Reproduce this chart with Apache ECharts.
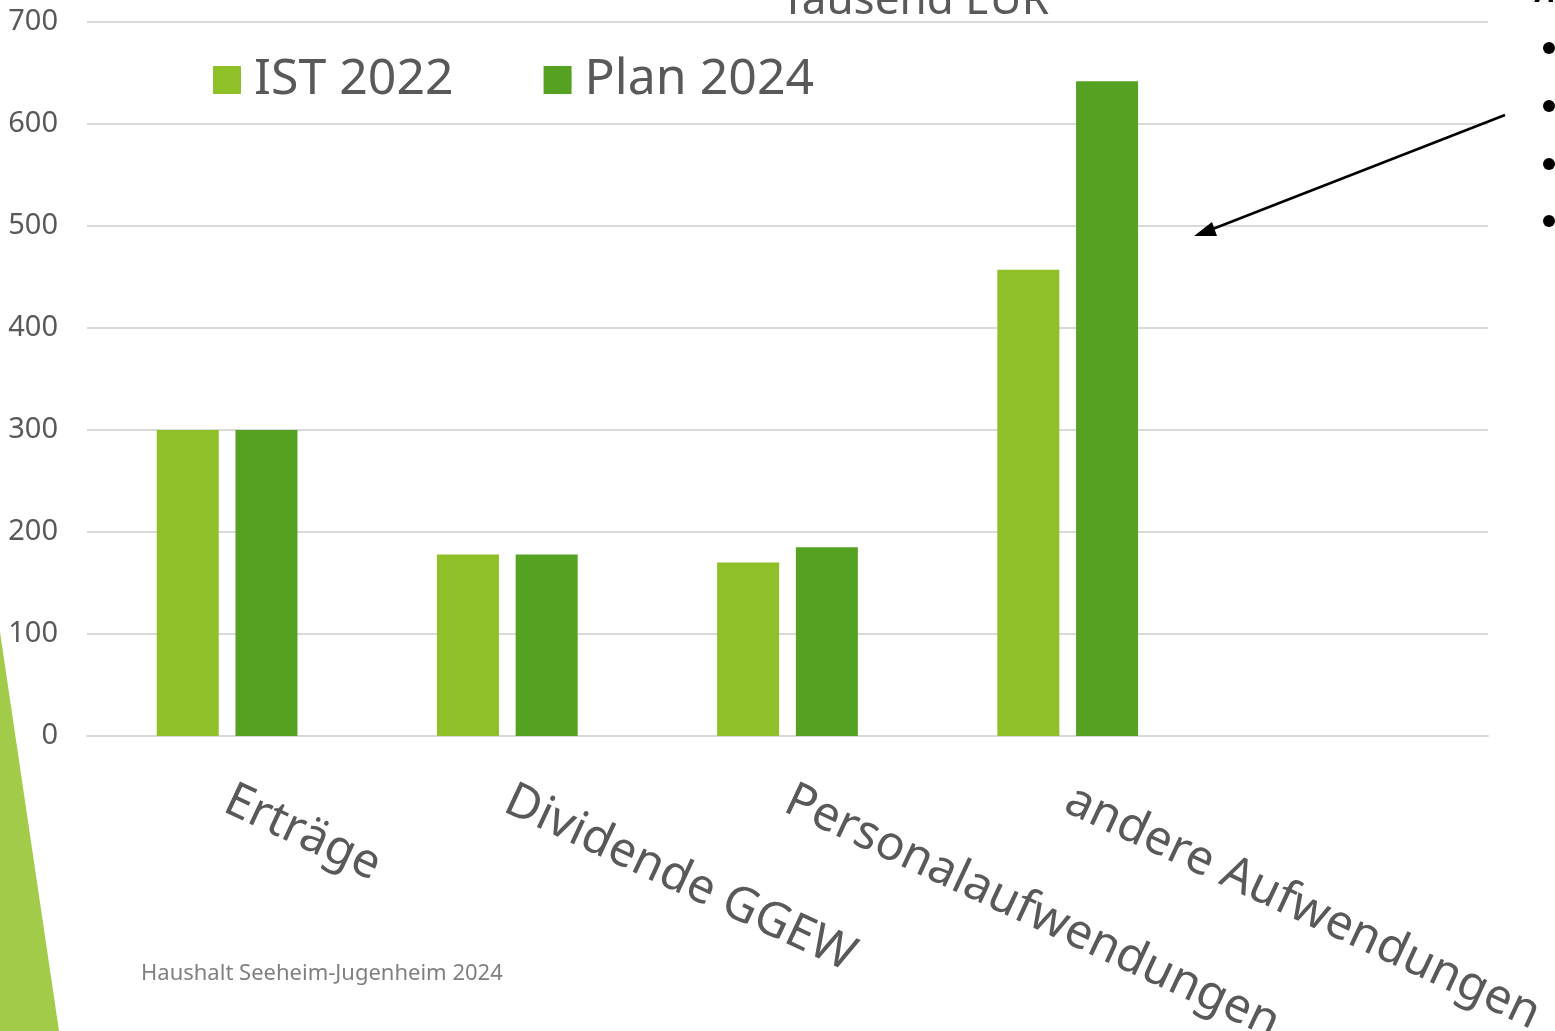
<!DOCTYPE html>
<html>
<head>
<meta charset="utf-8">
<script src="https://cdn.jsdelivr.net/npm/echarts@6/dist/echarts.min.js"></script>
<style>
    html, body {margin: 0; padding: 0; background: #fff;}
    #chart {width: 1555px; height: 1031px;}
</style>
</head>
<body>
<div id="chart"></div>
<script>
    // data
    const categories = ["Erträge", "Dividende GGEW", "Personalaufwendungen", "andere Aufwendungen", ""];
    const ist2022 = [300, 178, 170, 457, null];
    const plan2024 = [300, 178, 185, 642, null];
    const yTicks = [0, 100, 200, 300, 400, 500, 600, 700];

    const FONT = "Noto Sans"; // closest installed face
    const GRAY = "#595959";

    const chart = echarts.init(document.getElementById("chart"));
    chart.setOption({
        animation: false,
        backgroundColor: "#fff",
        title: {
            text: "Tausend EUR",
            left: 910, top: -26,
            textAlign: "center",
            textStyle: {fontFamily: FONT, fontSize: 44, fontWeight: "normal", color: GRAY}
        },
        legend: {
            left: 208, top: 50,
            itemWidth: 28, itemHeight: 28, itemGap: 90,
            icon: "rect",
            textStyle: {fontFamily: FONT, fontSize: 50, color: GRAY, padding: [0, 0, 0, 8]},
            data: ["IST 2022", "Plan 2024"]
        },
        grid: {left: 87, right: 67, top: 22, bottom: 295, containLabel: false, outerBoundsMode: "none"},
        xAxis: {
            type: "category",
            data: categories,
            axisLine: {lineStyle: {color: "#d9d9d9", width: 2}},
            axisTick: {show: false},
            axisLabel: {
                interval: 0, rotate: -25, margin: 62,
                fontFamily: FONT, fontSize: 48, color: GRAY
            }
        },
        yAxis: {
            type: "value",
            min: yTicks[0], max: yTicks[yTicks.length - 1], interval: 100,
            axisLine: {show: false},
            axisTick: {show: false},
            splitLine: {lineStyle: {color: "#d9d9d9", width: 2}},
            axisLabel: {margin: 29, fontFamily: FONT, fontSize: 29, color: GRAY}
        },
        series: [
            {
                name: "IST 2022", type: "bar", data: ist2022,
                barWidth: 62, barGap: "27%",
                itemStyle: {color: "#8fc027"}
            },
            {
                name: "Plan 2024", type: "bar", data: plan2024,
                barWidth: 62,
                itemStyle: {color: "#55a122"}
            }
        ],
        graphic: [
            // left decoration
            {
                type: "polygon", z: 0,
                shape: {points: [[0, 632], [0, 1031], [59, 1031]]},
                style: {fill: "#a1cb49"}
            },
            // arrow
            {
                type: "line", z: 10,
                shape: {x1: 1505, y1: 115, x2: 1205, y2: 232},
                style: {stroke: "#000", lineWidth: 2.5}
            },
            {
                type: "polygon", z: 10,
                shape: {points: [[1194, 236], [1212, 222], [1217, 236]]},
                style: {fill: "#000"}
            },
            // cut-off side text
            {
                type: "text", z: 10, left: 1536, top: -22,
                style: {text: "A", font: "italic bold 30px 'Noto Sans'", fill: "#000"}
            },
            {type: "circle", shape: {cx: 1549, cy: 48, r: 6}, style: {fill: "#000"}},
            {type: "circle", shape: {cx: 1549, cy: 106, r: 6}, style: {fill: "#000"}},
            {type: "circle", shape: {cx: 1549, cy: 164, r: 6}, style: {fill: "#000"}},
            {type: "circle", shape: {cx: 1549, cy: 221, r: 6}, style: {fill: "#000"}},
            // footer
            {
                type: "text", left: 141, top: 963,
                style: {text: "Haushalt Seeheim-Jugenheim 2024", font: "22px 'Noto Sans'", fill: "#7f7f7f"}
            }
        ]
    });
</script>
</body>
</html>
